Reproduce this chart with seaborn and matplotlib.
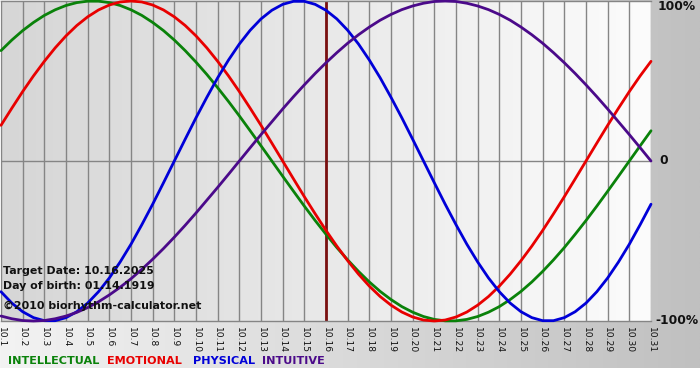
import numpy as np
import pandas as pd
import matplotlib
matplotlib.use("Agg")
import matplotlib.pyplot as plt
import seaborn as sns

# ---- data (values read every half day) ----
days = list(range(1, 32))
tick_labels = [f"10.{d}" for d in days]
sample_days = [1 + 0.5 * i for i in range(61)]
intellectual = [0.690, 0.756, 0.815, 0.866, 0.910, 0.945, 0.972, 0.990, 0.999, 0.999, 0.990,
                0.972, 0.945, 0.910, 0.866, 0.815, 0.756, 0.690, 0.618, 0.541, 0.458, 0.372,
                0.282, 0.189, 0.095, 0.000,
                -0.095, -0.189, -0.282, -0.372, -0.458, -0.541, -0.618, -0.690, -0.756,
                -0.815, -0.866, -0.910, -0.945, -0.972, -0.990, -0.999, -0.999, -0.990,
                -0.972, -0.945, -0.910, -0.866, -0.815, -0.756, -0.690, -0.618, -0.541,
                -0.458, -0.372, -0.282, -0.189, -0.095, 0.000,
                0.095, 0.189]
emotional = [0.223, 0.330, 0.434, 0.532, 0.623, 0.707, 0.782, 0.847, 0.901, 0.944, 0.975,
             0.994, 1.000, 0.994, 0.975, 0.944, 0.901, 0.847, 0.782, 0.707, 0.623, 0.532,
             0.434, 0.330, 0.223, 0.112, 0.000,
             -0.112, -0.223, -0.330, -0.434, -0.532, -0.623, -0.707, -0.782, -0.847, -0.901,
             -0.944, -0.975, -0.994, -1.000, -0.994, -0.975, -0.944, -0.901, -0.847, -0.782,
             -0.707, -0.623, -0.532, -0.434, -0.330, -0.223, -0.112, 0.000,
             0.112, 0.223, 0.330, 0.434, 0.532, 0.623]
physical = [-0.817, -0.888, -0.942, -0.979, -0.998, -0.998, -0.979, -0.942, -0.888, -0.817,
            -0.731, -0.631, -0.520, -0.398, -0.270, -0.136,
            0.000, 0.136, 0.270, 0.398, 0.520, 0.631, 0.731, 0.817, 0.888, 0.942, 0.979,
            0.998, 0.998, 0.979, 0.942, 0.888, 0.817, 0.731, 0.631, 0.520, 0.398, 0.270,
            0.136, 0.000,
            -0.136, -0.270, -0.398, -0.520, -0.631, -0.731, -0.817, -0.888, -0.942, -0.979,
            -0.998, -0.998, -0.979, -0.942, -0.888, -0.817, -0.731, -0.631, -0.520, -0.398,
            -0.270]
intuitive = [-0.969, -0.986, -0.997, -1.000, -0.997, -0.986, -0.969, -0.946, -0.916, -0.880,
             -0.837, -0.789, -0.736, -0.677, -0.614, -0.547, -0.476, -0.402, -0.325, -0.245,
             -0.165, -0.083,
             0.000, 0.083, 0.165, 0.245, 0.325, 0.402, 0.476, 0.547, 0.614, 0.677, 0.736,
             0.789, 0.837, 0.880, 0.916, 0.946, 0.969, 0.986, 0.997, 1.000, 0.997, 0.986,
             0.969, 0.946, 0.916, 0.880, 0.837, 0.789, 0.736, 0.677, 0.614, 0.547, 0.476,
             0.402, 0.325, 0.245, 0.165, 0.083, 0.000]
series_names = ["INTELLECTUAL", "EMOTIONAL", "PHYSICAL", "INTUITIVE"]
target_day = 16
y_ticks = [1, 0, -1]
y_labels = ["100%", "0", "-100%"]
info_lines = ["Target Date: 10.16.2025", "Day of birth: 01.14.1919", "©2010 biorhythm-calculator.net"]

colors = {"INTELLECTUAL": "#0a820a", "EMOTIONAL": "#e80000",
          "PHYSICAL": "#0000d8", "INTUITIVE": "#4b0a8a"}

df = pd.DataFrame({
    "day": sample_days * 4,
    "value": intellectual + emotional + physical + intuitive,
    "series": sum([[n] * len(sample_days) for n in series_names], []),
})

sns.set_style("white")
plt.rcParams["font.family"] = ["DejaVu Sans"]

W, H = 700, 380
fig = plt.figure(figsize=(W / 100, H / 100), dpi=100)
fig.patch.set_facecolor("white")

# figure background gradient (light left -> gray right), white strip at the very bottom
bg = fig.add_axes([0, 0, 1, 1], zorder=-10)
grad = np.linspace(243, 192, 256)[None, :] / 255.0
bg.imshow(np.repeat(grad[..., None], 3, axis=2), extent=[0, W, 12, H], aspect="auto",
          interpolation="bilinear")
bg.set_xlim(0, W)
bg.set_ylim(0, H)
bg.axis("off")

def fx(x):
    return x / W

def fy(y):
    return 1 - y / H

# main plot area: px x 1..651, y 1..321
ax = fig.add_axes([fx(1), fy(321), 650 / W, 320 / H])
ax.set_xlim(1, 31)
ax.set_ylim(-1, 1)
pgrad = np.linspace(214, 252, 256)[None, :] / 255.0
ax.imshow(np.repeat(pgrad[..., None], 3, axis=2), extent=[1, 31, -1, 1], aspect="auto",
          interpolation="bilinear", zorder=0)

for d in days:
    ax.axvline(d, color="#858585", lw=1.0, zorder=1)
ax.axhline(0, color="#858585", lw=1.0, zorder=1)
ax.axvline(target_day, color="#7a1010", lw=2.0, zorder=2)

sns.lineplot(data=df, x="day", y="value", hue="series", palette=colors,
             hue_order=series_names, legend=False, lw=2.0, ax=ax, zorder=3,
             clip_on=False)

for s in ["left", "right"]:
    ax.spines[s].set_visible(False)
for s in ["top", "bottom"]:
    ax.spines[s].set_color("#858585")
    ax.spines[s].set_linewidth(1.0)

ax.set_xticks(days)
ax.set_xticklabels(tick_labels, rotation=270, fontsize=6.6, color="#111111")
ax.tick_params(axis="x", length=3, width=1, color="#858585", pad=1.5)
ax.set_yticks([])
ax.set_xlabel("")
ax.set_ylabel("")
ax.set_aspect("auto")

# right-hand percentage labels
for val, lab in zip(y_ticks, y_labels):
    ypx = 1 + (1 - val) / 2 * 320
    if val == 1:
        ypx = 7
    xpx = 655 if lab.startswith("-") else (658 if len(lab) > 1 else 659)
    fig.text(fx(xpx), fy(ypx), lab, fontsize=8.8, fontweight="bold", color="#111111",
             ha="left", va="center")

# info text
for t, ypx in zip(info_lines, [271, 286, 306]):
    fig.text(fx(3), fy(ypx), t, fontsize=7.9, fontweight="bold", color="#111111",
             ha="left", va="center")

# legend texts
legend_x = [8, 107, 193, 262]
for name, xpx in zip(series_names, legend_x):
    fig.text(fx(xpx), fy(361), name, fontsize=8.1, fontweight="bold", color=colors[name],
             ha="left", va="center")

fig.savefig("out.png", dpi=100)
